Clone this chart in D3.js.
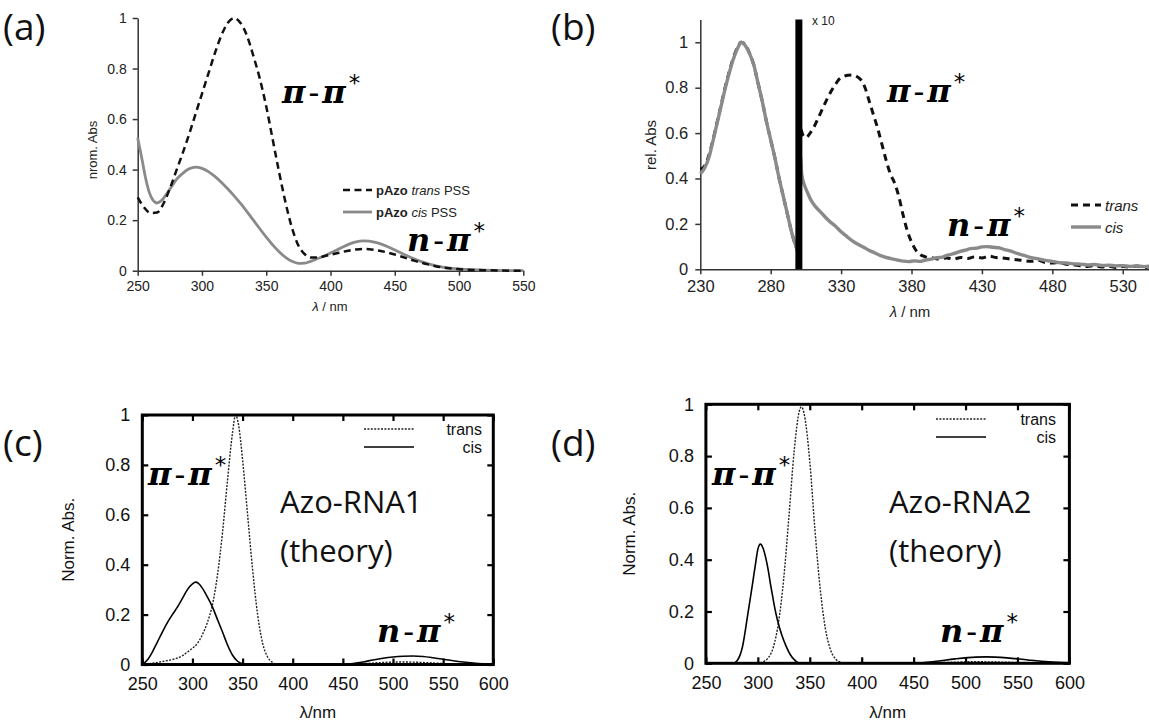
<!DOCTYPE html>
<html>
<head>
<meta charset="utf-8">
<script src="https://cdn.jsdelivr.net/npm/d3@7"></script>
<style>
  html, body { margin: 0; padding: 0; background: #fff; }
  svg { display: block; }
  text { font-family: "Liberation Sans", Arial, sans-serif; }
</style>
</head>
<body>
<svg id="chart" width="1149" height="721"></svg>
<script>
// ---------------- DATA ----------------
// Panel (a): experimental pAzo spectra (nm, normalised absorbance)
const aTransWl = [250,255,260,265,270,275,280,285,290,295,300,305,310,315,320,325,330,335,340,345,350,355,360,365,370,375,380,385,390,395,400,405,410,415,420,425,430,435,440,445,450,455,460,465,470,475,480,485,490,495,500,510,520,530,540,550];
const aTransAbs = [0.29,0.25,0.228,0.23,0.265,0.325,0.395,0.465,0.54,0.62,0.70,0.78,0.86,0.93,0.98,1.0,0.98,0.93,0.85,0.76,0.65,0.52,0.39,0.27,0.17,0.10,0.065,0.052,0.052,0.057,0.063,0.069,0.075,0.08,0.084,0.086,0.085,0.082,0.077,0.071,0.064,0.056,0.048,0.04,0.033,0.026,0.02,0.015,0.011,0.008,0.006,0.003,0.002,0.001,0.0,0.0];
const aCisWl = [250,253,256,259,262,265,268,272,276,280,285,290,295,300,305,310,315,320,325,330,335,340,345,350,355,360,365,370,375,380,385,390,395,400,405,410,415,420,425,430,435,440,445,450,455,460,465,470,475,480,485,490,495,500,510,520,530,540,550];
const aCisAbs = [0.525,0.45,0.37,0.31,0.278,0.268,0.275,0.30,0.33,0.36,0.385,0.403,0.41,0.405,0.392,0.373,0.35,0.324,0.296,0.266,0.234,0.2,0.166,0.133,0.102,0.075,0.053,0.037,0.029,0.03,0.038,0.048,0.058,0.07,0.082,0.095,0.106,0.114,0.118,0.117,0.112,0.104,0.094,0.082,0.07,0.058,0.047,0.037,0.029,0.022,0.016,0.012,0.009,0.007,0.004,0.002,0.001,0.0,0.0];

// Panel (b): relative absorbance, values right of 300 nm shown x10
const bTransWl = [230,233,236,239,242,245,248,251,254,257,259,262,265,268,271,274,277,280,283,286,289,292,295,298,300,301,303,305,308,311,314,317,320,323,326,329,332,335,338,341,344,347,350,353,356,359,362,365,368,371,374,377,380,383,386,390,395,400,405,410,415,420,425,430,435,440,445,450,455,460,465,470,475,480,485,490,495,500,505,510,515,520,525,530,535,540,545,550];
const bTransAbs = [0.44,0.455,0.50,0.57,0.65,0.73,0.81,0.88,0.94,0.985,1.0,0.99,0.95,0.90,0.82,0.74,0.65,0.57,0.49,0.40,0.32,0.24,0.16,0.10,0.075,0.62,0.59,0.58,0.60,0.63,0.67,0.71,0.75,0.785,0.815,0.84,0.85,0.855,0.856,0.85,0.835,0.80,0.74,0.68,0.62,0.55,0.48,0.42,0.38,0.32,0.24,0.17,0.12,0.085,0.065,0.055,0.05,0.045,0.05,0.045,0.052,0.048,0.055,0.05,0.058,0.052,0.05,0.045,0.042,0.038,0.035,0.04,0.03,0.028,0.03,0.022,0.02,0.015,0.012,0.016,0.01,0.014,0.008,0.012,0.01,0.014,0.008,0.012];
const bCisWl = [230,233,236,239,242,245,248,251,254,257,259,262,265,268,271,274,277,280,283,286,289,292,295,298,300,301,302,304,306,309,312,315,318,322,326,330,334,338,342,346,350,354,358,362,366,370,374,378,382,386,390,394,398,402,406,410,414,418,422,426,430,434,438,442,446,450,455,460,465,470,475,480,485,490,495,500,505,510,515,520,525,530,535,540,545,550];
const bCisAbs = [0.42,0.445,0.49,0.565,0.645,0.725,0.805,0.875,0.935,0.98,1.0,0.985,0.95,0.90,0.82,0.74,0.65,0.57,0.49,0.40,0.32,0.24,0.16,0.10,0.07,0.50,0.42,0.37,0.34,0.30,0.275,0.255,0.235,0.21,0.19,0.165,0.145,0.125,0.11,0.097,0.083,0.072,0.06,0.052,0.046,0.041,0.036,0.034,0.037,0.035,0.041,0.045,0.051,0.054,0.063,0.069,0.078,0.084,0.091,0.093,0.099,0.1,0.097,0.095,0.087,0.081,0.07,0.061,0.051,0.046,0.039,0.035,0.029,0.028,0.024,0.023,0.019,0.021,0.017,0.018,0.015,0.016,0.013,0.015,0.012,0.014];

// Panel (c): Azo-RNA1 theory
const cTransWl = [250,260,270,280,290,295,300,305,310,315,320,325,330,335,340,343,346,350,355,360,365,370,375,380,385,450,470,490,510,530,550,570,600];
const cTransAbs = [0.0,0.005,0.012,0.02,0.035,0.05,0.065,0.085,0.12,0.17,0.24,0.36,0.53,0.74,0.93,1.0,0.96,0.82,0.6,0.38,0.2,0.085,0.03,0.008,0.0,0.0,0.003,0.008,0.01,0.008,0.004,0.001,0.0];
const cCisWl = [250,255,260,265,270,275,280,285,290,295,300,303,306,310,315,320,325,330,335,340,345,350,355,450,460,470,480,490,500,510,520,530,540,550,560,570,580,590,600];
const cCisAbs = [0.0,0.018,0.05,0.09,0.13,0.168,0.2,0.23,0.265,0.3,0.323,0.33,0.325,0.305,0.27,0.23,0.18,0.13,0.078,0.037,0.013,0.003,0.0,0.0,0.004,0.01,0.018,0.025,0.03,0.033,0.034,0.032,0.027,0.021,0.015,0.01,0.006,0.003,0.001];

// Panel (d): Azo-RNA2 theory
const dTransWl = [250,300,305,310,315,320,325,330,335,340,342,345,350,355,360,365,370,375,380,385,450,480,510,540,570,600];
const dTransAbs = [0.0,0.0,0.006,0.021,0.063,0.16,0.33,0.57,0.82,0.975,0.99,0.955,0.78,0.515,0.29,0.135,0.052,0.016,0.004,0.0,0.0,0.003,0.006,0.004,0.001,0.0];
const dCisWl = [250,276,280,285,290,295,298,300,302.5,305,308,310,312,314,316,319,323,327,331,336,340,450,470,490,510,520,540,560,580,600];
const dCisAbs = [0.0,0.0,0.01,0.06,0.18,0.31,0.39,0.44,0.46,0.445,0.40,0.36,0.31,0.265,0.22,0.165,0.11,0.068,0.035,0.01,0.0,0.0,0.007,0.017,0.024,0.025,0.021,0.013,0.006,0.002];

const yTicks = [0,0.2,0.4,0.6,0.8,1];
const aXTicks = [250,300,350,400,450,500,550];
const bXTicks = [230,280,330,380,430,480,530];
const cdXTicks = [250,300,350,400,450,500,550,600];

// ---------------- DRAWING ----------------
const svg = d3.select("#chart");
const fmtY = v => String(+v.toFixed(1));
const zip = (w, a) => w.map((x, i) => [x, a[i]]);

function curve(g, x, y, w, a, stroke, width, dash) {
  const line = d3.line().x(d => x(d[0])).y(d => y(d[1])).curve(d3.curveMonotoneX);
  g.append("path").attr("d", line(zip(w, a)))
    .attr("fill", "none").attr("stroke", stroke).attr("stroke-width", width)
    .attr("stroke-dasharray", dash || null).attr("stroke-linejoin", "round");
}

function transLabel(g, x, y, first, size) {
  const t = g.append("text").attr("x", x).attr("y", y)
    .style("font-family", "'DejaVu Serif', serif").style("font-weight", "bold")
    .style("font-style", "italic").style("font-size", size + "px")
    .style("letter-spacing", "3px").attr("fill", "#000");
  t.append("tspan").text(first);
  t.append("tspan").text("-").style("font-style", "normal").style("font-weight", "normal");
  t.append("tspan").text("π");
  t.append("tspan").text("*").attr("dy", -size * 0.36).style("font-size", (size * 0.72) + "px")
    .style("font-family", "'DejaVu Sans', sans-serif")
    .style("font-style", "normal").style("font-weight", "normal");
}

function panelLabel(x, y, s) {
  svg.append("text").attr("x", x).attr("y", y).text(s)
    .style("font-family", "'Open Sans', sans-serif").style("font-size", "37px").attr("fill", "#111");
}

function styleAxis(sel, fs, color) {
  sel.selectAll("path").attr("stroke", color).attr("stroke-width", 1.5);
  sel.selectAll("line").attr("stroke", color).attr("stroke-width", 1.5);
  sel.selectAll("text").style("font-family", "'Liberation Sans', Arial, sans-serif")
    .style("font-size", fs + "px").attr("fill", "#222");
}

// ===== Panel (a) =====
{
  const g = svg.append("g");
  const x = d3.scaleLinear().domain([250, 550]).range([137.7, 523.3]);
  const y = d3.scaleLinear().domain([0, 1]).range([270.7, 18]);
  const ax = g.append("g").attr("transform", "translate(0,270.7)")
    .call(d3.axisBottom(x).tickValues(aXTicks).tickSize(5).tickSizeOuter(0).tickPadding(5));
  styleAxis(ax, 14, "#333");
  const ay = g.append("g").attr("transform", "translate(137.7,0)")
    .call(d3.axisLeft(y).tickValues(yTicks).tickFormat(fmtY).tickSize(5).tickSizeOuter(0).tickPadding(6));
  styleAxis(ay, 14, "#333");
  curve(g, x, y, aCisWl, aCisAbs, "#8a8a8a", 2.8);
  curve(g, x, y, aTransWl, aTransAbs, "#111", 2.5, "7,4.5");
  g.append("text").attr("transform", "translate(97,150) rotate(-90)").attr("text-anchor", "middle")
    .text("nrom. Abs").style("font-size", "13px").attr("fill", "#222");
  const xl = g.append("text").attr("x", 330).attr("y", 311).attr("text-anchor", "middle")
    .style("font-size", "13px").attr("fill", "#222");
  xl.append("tspan").text("λ").style("font-style", "italic");
  xl.append("tspan").text(" / nm");
  // legend
  g.append("line").attr("x1", 343).attr("x2", 372).attr("y1", 190).attr("y2", 190)
    .attr("stroke", "#111").attr("stroke-width", 2.5).attr("stroke-dasharray", "7,4.5");
  g.append("line").attr("x1", 343).attr("x2", 372).attr("y1", 212).attr("y2", 212)
    .attr("stroke", "#8a8a8a").attr("stroke-width", 2.8);
  [["trans", 194.5], ["cis", 216.5]].forEach(([w, yy]) => {
    const t = g.append("text").attr("x", 376).attr("y", yy).style("font-size", "13px").attr("fill", "#222");
    t.append("tspan").text("pAzo ").style("font-weight", "bold");
    t.append("tspan").text(w).style("font-style", "italic");
    t.append("tspan").text(" PSS");
  });
  transLabel(g, 282, 103, "π", 32);
  transLabel(g, 407, 250.5, "n", 32);
  panelLabel(3, 40, "(a)");
}

// ===== Panel (b) =====
{
  const g = svg.append("g");
  const x = d3.scaleLinear().domain([230, 550]).range([700.3, 1150.9]);
  const y = d3.scaleLinear().domain([0, 1.1]).range([269.3, 19.6]);
  const ax = g.append("g").attr("transform", "translate(0,269.3)")
    .call(d3.axisBottom(x).tickValues(bXTicks).tickSize(5).tickSizeOuter(0).tickPadding(6));
  styleAxis(ax, 16.5, "#333");
  const ay = g.append("g").attr("transform", "translate(700.3,0)")
    .call(d3.axisLeft(y).tickValues(yTicks).tickFormat(fmtY).tickSize(5).tickSizeOuter(0).tickPadding(7));
  styleAxis(ay, 16.5, "#333");
  curve(g, x, y, bTransWl, bTransAbs, "#111", 3, "7,5");
  curve(g, x, y, bCisWl, bCisAbs, "#8a8a8a", 3.4);
  // x10 separator bar at 300 nm
  g.append("line").attr("x1", x(300)).attr("x2", x(300)).attr("y1", y(1.1)).attr("y2", y(0))
    .attr("stroke", "#000").attr("stroke-width", 7);
  g.append("text").attr("x", 812).attr("y", 25).text("x 10").style("font-size", "12px").attr("fill", "#222");
  g.append("text").attr("transform", "translate(656,145) rotate(-90)").attr("text-anchor", "middle")
    .text("rel. Abs").style("font-size", "15px").attr("fill", "#222");
  const xl = g.append("text").attr("x", 910).attr("y", 317).attr("text-anchor", "middle")
    .style("font-size", "15px").attr("fill", "#222");
  xl.append("tspan").text("λ").style("font-style", "italic");
  xl.append("tspan").text(" / nm");
  g.append("line").attr("x1", 1071).attr("x2", 1101).attr("y1", 205).attr("y2", 205)
    .attr("stroke", "#111").attr("stroke-width", 3).attr("stroke-dasharray", "7,5");
  g.append("line").attr("x1", 1071).attr("x2", 1101).attr("y1", 227).attr("y2", 227)
    .attr("stroke", "#8a8a8a").attr("stroke-width", 3.4);
  g.append("text").attr("x", 1105).attr("y", 210.5).text("trans").style("font-style", "italic")
    .style("font-size", "15px").attr("fill", "#222");
  g.append("text").attr("x", 1105).attr("y", 232.5).text("cis").style("font-style", "italic")
    .style("font-size", "15px").attr("fill", "#222");
  transLabel(g, 887, 102, "π", 32);
  transLabel(g, 947, 236, "n", 32);
  panelLabel(551, 40, "(b)");
}

// ===== Panels (c) and (d): gnuplot style frames =====
function theoryPanel(opts) {
  const g = svg.append("g");
  const x = d3.scaleLinear().domain([250, 600]).range(opts.xr);
  const y = d3.scaleLinear().domain([0, 1]).range(opts.yr);
  const [x0, x1] = opts.xr, [y0, y1] = opts.yr;
  const axB = g.append("g").attr("transform", `translate(0,${y0})`)
    .call(d3.axisBottom(x).tickValues(cdXTicks).tickSize(-6).tickSizeOuter(0).tickPadding(13));
  const axT = g.append("g").attr("transform", `translate(0,${y1})`)
    .call(d3.axisTop(x).tickValues(cdXTicks).tickSize(-6).tickSizeOuter(0).tickFormat(""));
  const axL = g.append("g").attr("transform", `translate(${x0},0)`)
    .call(d3.axisLeft(y).tickValues(yTicks).tickFormat(fmtY).tickSize(-6).tickSizeOuter(0).tickPadding(12));
  const axR = g.append("g").attr("transform", `translate(${x1},0)`)
    .call(d3.axisRight(y).tickValues(yTicks).tickSize(-6).tickSizeOuter(0).tickFormat(""));
  [axB, axT, axL, axR].forEach(a => {
    a.select(".domain").remove();
    a.selectAll("line").attr("stroke", "#000").attr("stroke-width", 2.2);
    a.selectAll("text").style("font-family", "'Liberation Sans', Arial, sans-serif")
      .style("font-size", "18px").attr("fill", "#111");
  });
  curve(g, x, y, opts.transWl, opts.transAbs, "#222", 1.4, "2,1.4");
  curve(g, x, y, opts.cisWl, opts.cisAbs, "#000", 1.6);
  g.append("rect").attr("x", x0).attr("y", y1).attr("width", x1 - x0).attr("height", y0 - y1)
    .attr("fill", "none").attr("stroke", "#000").attr("stroke-width", 3);
  // legend
  g.append("line").attr("x1", opts.legX).attr("x2", opts.legX + 50).attr("y1", opts.legY).attr("y2", opts.legY)
    .attr("stroke", "#222").attr("stroke-width", 1.4).attr("stroke-dasharray", "2,1.4");
  g.append("line").attr("x1", opts.legX).attr("x2", opts.legX + 50).attr("y1", opts.legY + 18).attr("y2", opts.legY + 18)
    .attr("stroke", "#000").attr("stroke-width", 1.6);
  g.append("text").attr("x", opts.legTx).attr("y", opts.legY + 5.5).attr("text-anchor", "end")
    .text("trans").style("font-size", "16px").attr("fill", "#111");
  g.append("text").attr("x", opts.legTx).attr("y", opts.legY + 23.5).attr("text-anchor", "end")
    .text("cis").style("font-size", "16px").attr("fill", "#111");
  g.append("text").attr("transform", `translate(${opts.ylabX},${(y0 + y1) / 2}) rotate(-90)`)
    .attr("text-anchor", "middle").text("Norm. Abs.").style("font-size", "17px").attr("fill", "#111");
  g.append("text").attr("x", (x0 + x1) / 2).attr("y", 718).attr("text-anchor", "middle")
    .text("λ/nm").style("font-size", "17px").attr("fill", "#111");
  g.append("text").attr("x", opts.nameX).attr("y", 513).text(opts.name)
    .style("font-family", "'Open Sans', sans-serif").style("font-size", "31px").attr("fill", "#111");
  g.append("text").attr("x", opts.nameX).attr("y", 562).text("(theory)")
    .style("font-family", "'Open Sans', sans-serif").style("font-size", "31px").attr("fill", "#111");
  transLabel(g, opts.ppX, 485, "π", 32);
  transLabel(g, opts.npX, 642, "n", 32);
  panelLabel(opts.labX, 456, opts.lab);
}

theoryPanel({ xr: [142.3, 493.3], yr: [664.5, 415], transWl: cTransWl, transAbs: cTransAbs,
  cisWl: cCisWl, cisAbs: cCisAbs, legX: 364, legY: 429, legTx: 482, ylabX: 74,
  name: "Azo-RNA1", nameX: 280, ppX: 148, npX: 377, labX: 3, lab: "(c)" });
theoryPanel({ xr: [705.9, 1069.4], yr: [663.3, 404.3], transWl: dTransWl, transAbs: dTransAbs,
  cisWl: dCisWl, cisAbs: dCisAbs, legX: 936, legY: 419, legTx: 1056, ylabX: 635,
  name: "Azo-RNA2", nameX: 889, ppX: 712, npX: 940, labX: 551, lab: "(d)" });
</script>
</body>
</html>
